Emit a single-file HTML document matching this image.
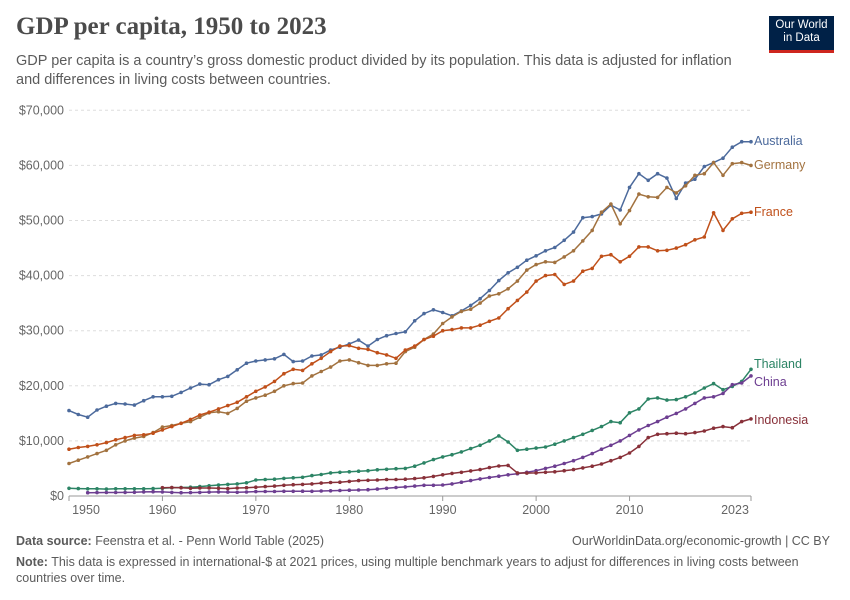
<!DOCTYPE html>
<html><head><meta charset="utf-8"><style>
body{margin:0;background:#fff;font-family:"Liberation Sans",sans-serif;}
.t{position:absolute;left:16px;top:13px;font-family:"Liberation Serif",serif;font-size:25px;font-weight:bold;color:#4b4b4b;}
.s{position:absolute;left:16px;top:52px;width:740px;font-size:14.5px;line-height:19px;color:#5b5b5b;}
.logo{position:absolute;left:769px;top:16px;width:65px;height:37px;background:#002147;color:#fff;font-size:11.5px;line-height:13px;text-align:center;padding-top:3px;box-sizing:border-box;border-bottom:3px solid #ce261e;}
.f{position:absolute;font-size:12.5px;color:#5b5b5b;}
</style></head><body>
<div class="t">GDP per capita, 1950 to 2023</div>
<div class="s">GDP per capita is a country’s gross domestic product divided by its population. This data is adjusted for inflation and differences in living costs between countries.</div>
<div class="logo">Our World<br>in Data</div>
<svg id="c" width="850" height="600" style="position:absolute;left:0;top:0" font-family="Liberation Sans, sans-serif"></svg>
<div class="f" style="left:16px;top:534px"><b>Data source:</b> Feenstra et al. - Penn World Table (2025)</div>
<div class="f" style="right:20px;top:534px">OurWorldinData.org/economic-growth | CC BY</div>
<div class="f" style="left:16px;top:554px;width:820px;line-height:16px"><b>Note:</b> This data is expressed in international-$ at 2021 prices, using multiple benchmark years to adjust for differences in living costs between countries over time.</div>
<script>
const X=y=>69+(y-1950)*(682/73), Y=v=>496-v*5.51;
let h='';
for(let i=0;i<=7;i++){const y=Y(i*10);
 if(i>0)h+=`<line x1="69" x2="751" y1="${y}" y2="${y}" stroke="#ddd" stroke-dasharray="3,3"/>`;
 h+=`<text x="64" y="${y+4}" text-anchor="end" font-size="12.5" fill="#666">$${i==0?'0':i*10+',000'}</text>`;}
h+=`<line x1="69" x2="751" y1="496" y2="496" stroke="#999"/>`;
[1950,1960,1970,1980,1990,2000,2010,2023].forEach(y=>{const x=X(y);h+=`<line x1="${x}" x2="${x}" y1="496" y2="501" stroke="#999"/><text x="${y==1950?86:y==2023?735:x}" y="514" text-anchor="middle" font-size="12.5" fill="#666">${y}</text>`;});
const S=[
["Australia","#4c6a9c",1950,[15.5,14.8,14.3,15.6,16.3,16.8,16.7,16.5,17.3,18.0,18.0,18.1,18.8,19.6,20.3,20.2,21.1,21.7,22.9,24.1,24.5,24.7,24.9,25.7,24.4,24.5,25.4,25.6,26.5,27.0,27.6,28.3,27.2,28.4,29.1,29.5,29.8,31.8,33.1,33.8,33.3,32.7,33.6,34.6,35.8,37.3,39.1,40.5,41.5,42.8,43.6,44.5,45.1,46.4,47.9,50.5,50.7,51.2,52.8,51.9,56.0,58.5,57.3,58.5,57.7,54.0,56.8,57.5,59.8,60.5,61.3,63.3,64.3,64.3],141],
["Germany","#a2723f",1950,[5.9,6.5,7.1,7.7,8.3,9.3,10.0,10.5,10.8,11.5,12.5,12.8,13.2,13.5,14.3,15.1,15.3,15.0,15.9,17.2,17.8,18.3,19.0,20.0,20.4,20.5,21.8,22.6,23.4,24.5,24.7,24.2,23.7,23.7,24.0,24.1,26.2,27.0,28.4,29.4,31.3,32.5,33.5,33.9,35.0,36.3,36.7,37.6,39.0,41.0,42.0,42.5,42.4,43.4,44.5,46.3,48.2,51.5,53.0,49.4,51.8,54.8,54.3,54.2,56.0,55.0,56.3,58.2,58.5,60.5,58.2,60.3,60.5,60.0],165],
["France","#c0501a",1950,[8.5,8.8,9.0,9.3,9.7,10.2,10.6,11.0,11.1,11.4,12.0,12.6,13.2,13.9,14.7,15.2,15.8,16.4,17.0,18.0,19.0,19.8,20.8,22.2,23.0,22.8,24.0,25.0,26.2,27.2,27.3,26.8,26.6,26.0,25.6,25.0,26.5,27.2,28.4,29.0,30.0,30.2,30.5,30.5,31.0,31.7,32.3,34.0,35.5,37.0,39.0,40.0,40.2,38.4,39.0,40.8,41.3,43.5,43.8,42.5,43.5,45.2,45.2,44.5,44.6,45.0,45.6,46.5,47.0,51.4,48.2,50.3,51.3,51.5],212],
["Thailand","#2c8465",1950,[1.4,1.35,1.3,1.3,1.25,1.3,1.3,1.3,1.3,1.35,1.4,1.5,1.55,1.6,1.7,1.85,2.0,2.1,2.2,2.4,2.9,3.0,3.05,3.2,3.3,3.4,3.7,3.9,4.2,4.3,4.4,4.5,4.6,4.75,4.85,4.95,5.0,5.4,6.0,6.6,7.1,7.5,8.0,8.6,9.2,10.0,10.9,9.8,8.3,8.5,8.7,8.9,9.4,10.0,10.6,11.2,11.9,12.6,13.5,13.3,15.1,15.8,17.6,17.8,17.4,17.5,18.0,18.7,19.6,20.4,19.3,19.9,20.8,23.0],364],
["China","#6d3e91",1952,[0.6,0.62,0.63,0.64,0.66,0.68,0.75,0.78,0.75,0.65,0.6,0.62,0.66,0.7,0.75,0.7,0.68,0.72,0.8,0.82,0.82,0.85,0.85,0.88,0.86,0.9,0.95,1.0,1.05,1.08,1.15,1.25,1.4,1.55,1.65,1.8,1.95,1.95,2.0,2.2,2.5,2.8,3.1,3.35,3.6,3.85,4.05,4.3,4.6,5.0,5.4,5.9,6.4,7.0,7.7,8.5,9.2,10.0,11.0,12.0,12.8,13.5,14.3,15.0,15.8,16.8,17.8,18.0,18.6,20.2,20.5,21.8],382],
["Indonesia","#883039",1960,[1.5,1.55,1.5,1.4,1.45,1.45,1.4,1.35,1.45,1.5,1.6,1.7,1.8,1.95,2.05,2.1,2.2,2.35,2.45,2.5,2.65,2.8,2.85,2.9,3.0,3.0,3.05,3.15,3.3,3.55,3.85,4.1,4.3,4.55,4.8,5.15,5.45,5.55,4.2,4.15,4.2,4.3,4.4,4.6,4.8,5.1,5.4,5.8,6.4,7.0,7.8,9.0,10.6,11.2,11.3,11.4,11.3,11.5,11.8,12.3,12.6,12.4,13.5,14.0],420]];
S.forEach(([n,c,s,d,ly])=>{const p=d.map((v,i)=>X(s+i).toFixed(1)+','+Y(v).toFixed(1));
 h+=`<polyline points="${p.join(' ')}" fill="none" stroke="${c}" stroke-width="1.5"/>`;
 p.forEach(q=>{const [a,b]=q.split(',');h+=`<circle cx="${a}" cy="${b}" r="1.8" fill="${c}"/>`;});
 h+=`<text x="754" y="${ly+4}" font-size="12.5" fill="${c}">${n}</text>`;});
document.getElementById('c').innerHTML=h;
</script>
</body></html>
